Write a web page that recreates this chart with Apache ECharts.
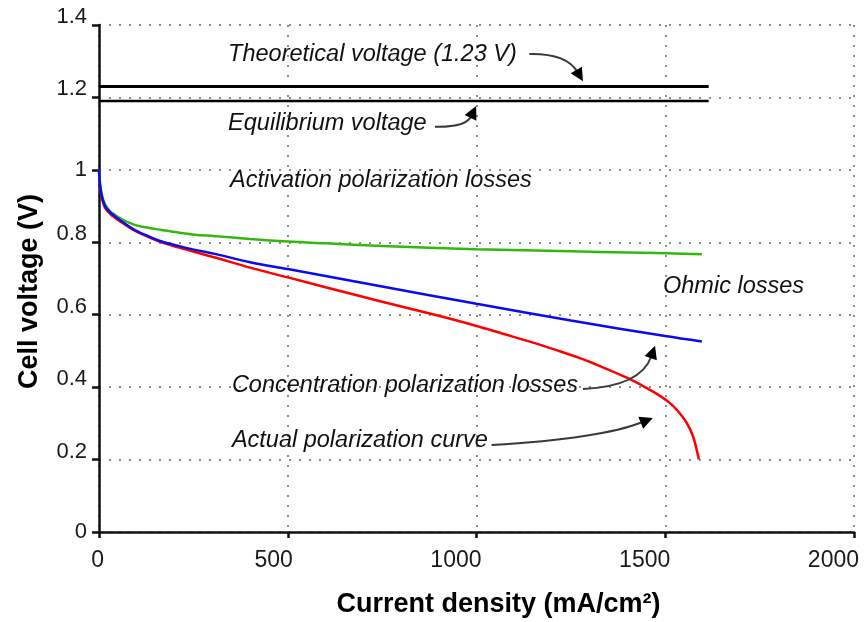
<!DOCTYPE html>
<html>
<head>
<meta charset="utf-8">
<title>Fuel cell polarization curve</title>
<script src="https://cdn.jsdelivr.net/npm/echarts@6/dist/echarts.min.js"></script>
<style>
  html, body { margin: 0; padding: 0; background: #ffffff; }
  #chart { width: 864px; height: 622px; }
</style>
</head>
<body>
<div id="chart"></div>
<script>
// ---- Data -------------------------------------------------------------
// Current density (mA/cm²) and cell voltage (V) for each loss curve.
const activationX = [0, 3, 8, 16, 30, 42, 60, 95, 130, 166, 210, 254, 307, 400, 500, 600, 750, 1000, 1250, 1400, 1597];
const activationY = [1.0, 0.96, 0.93, 0.905, 0.885, 0.876, 0.864, 0.848, 0.84, 0.834, 0.827, 0.821, 0.817, 0.809, 0.802, 0.797, 0.79, 0.781, 0.775, 0.772, 0.767];

const ohmicX = [0, 3, 8, 16, 30, 42, 60, 95, 130, 166, 210, 254, 307, 400, 500, 750, 1000, 1250, 1500, 1597];
const ohmicY = [1.0, 0.955, 0.925, 0.9, 0.882, 0.872, 0.858, 0.834, 0.817, 0.802, 0.79, 0.779, 0.768, 0.745, 0.726, 0.678, 0.63, 0.584, 0.541, 0.526];

const actualX = [0, 3, 8, 16, 30, 42, 60, 95, 130, 166, 210, 254, 307, 400, 500, 600, 750, 900, 1000, 1062, 1150, 1221, 1274, 1309, 1398, 1450, 1486, 1510, 1531, 1557, 1574, 1589];
const actualY = [1.0, 0.95, 0.92, 0.895, 0.878, 0.868, 0.855, 0.832, 0.815, 0.8, 0.786, 0.773, 0.758, 0.73, 0.703, 0.676, 0.636, 0.597, 0.569, 0.55, 0.523, 0.499, 0.48, 0.466, 0.426, 0.398, 0.376, 0.358, 0.337, 0.301, 0.263, 0.2];

// Reference voltages (V) and the current density where their lines stop.
const theoreticalVoltage = 1.23;
const equilibriumVoltage = 1.19;
const referenceLineEnd = 1615;

// Axis ticks.
const xTickValues = [0, 500, 1000, 1500, 2000];
const xTickLabels = ['0', '500', '1000', '1500', '2000'];
const yTickValues = [0, 0.2, 0.4, 0.6, 0.8, 1, 1.2, 1.4];
const yTickLabels = ['0', '0.2', '0.4', '0.6', '0.8', '1', '1.2', '1.4'];

// Annotation texts.
const noteTexts = [
  'Theoretical voltage (1.23 V)',
  'Equilibrium voltage',
  'Activation polarization losses',
  'Ohmic losses',
  'Concentration polarization losses',
  'Actual polarization curve'
];

// ---- Helpers ----------------------------------------------------------
const zip = (xs, ys) => xs.map((x, i) => [x, ys[i]]);
const FONT = '"Liberation Sans", Arial, Helvetica, sans-serif';

function tickLabel(values, labels, v) {
  const i = values.findIndex(t => Math.abs(t - v) < 1e-9);
  return i >= 0 ? labels[i] : '';
}

// ---- Chart ------------------------------------------------------------
const chart = echarts.init(document.getElementById('chart'), null, { renderer: 'canvas' });

const dotted = { color: '#8c8c8c', width: 2, type: [2, 8] };
const axisBlack = { color: '#111', width: 2.5 };
const curveLine = { type: 'line', showSymbol: false, smooth: 0.35 };
const tickFont = { fontFamily: FONT, color: '#1a1a1a' };

chart.setOption({
  animation: false,
  backgroundColor: '#ffffff',
  grid: { left: 99, right: 10, top: 25, bottom: 90, outerBoundsMode: 'none' },
  xAxis: {
    type: 'value',
    min: xTickValues[0],
    max: xTickValues[xTickValues.length - 1],
    interval: 500,
    name: 'Current density (mA/cm²)',
    nameLocation: 'middle',
    nameGap: 59,
    nameTextStyle: { fontFamily: FONT, fontSize: 27, fontWeight: 'bold', color: '#000', padding: [0, 0, 0, 44] },
    axisLine: { show: true, lineStyle: axisBlack },
    axisTick: { show: true, length: 6, lineStyle: axisBlack },
    axisLabel: {
      margin: 17,
      align: 'right',
      padding: [0, -5, 0, 0],
      fontFamily: FONT, fontSize: 23, color: '#1a1a1a',
      formatter: v => tickLabel(xTickValues, xTickLabels, v)
    },
    splitLine: { show: true, lineStyle: dotted }
  },
  yAxis: {
    type: 'value',
    min: yTickValues[0],
    max: yTickValues[yTickValues.length - 1],
    interval: 0.2,
    name: 'Cell voltage (V)',
    nameLocation: 'middle',
    nameGap: 56,
    nameTextStyle: { fontFamily: FONT, fontSize: 27, fontWeight: 'bold', color: '#000', padding: [0, 26, 0, 0] },
    axisLine: { show: true, lineStyle: axisBlack },
    axisTick: { show: true, length: 7, lineStyle: axisBlack },
    axisLabel: {
      margin: 12,
      fontFamily: FONT, fontSize: 22, color: '#1a1a1a',
      formatter: v => {
        const s = tickLabel(yTickValues, yTickLabels, v);
        return s.indexOf('.') >= 0 ? '{d|' + s + '}' : '{i|' + s + '}';
      },
      rich: {
        d: Object.assign({ fontSize: 22, padding: [0, 0, 16, 0] }, tickFont),
        i: Object.assign({ fontSize: 22 }, tickFont)
      }
    },
    splitLine: { show: true, lineStyle: dotted }
  },
  series: [
    {
      name: 'Theoretical voltage',
      type: 'line', showSymbol: false, silent: true,
      lineStyle: { color: '#000', width: 3 },
      data: [[0, theoreticalVoltage], [referenceLineEnd, theoreticalVoltage]]
    },
    {
      name: 'Equilibrium voltage',
      type: 'line', showSymbol: false, silent: true,
      lineStyle: { color: '#000', width: 2.5 },
      data: [[0, equilibriumVoltage], [referenceLineEnd, equilibriumVoltage]]
    },
    Object.assign({}, curveLine, {
      name: 'Actual polarization curve',
      lineStyle: { color: '#ff0000', width: 2.5 },
      data: zip(actualX, actualY)
    }),
    Object.assign({}, curveLine, {
      name: 'Activation losses',
      lineStyle: { color: '#33b80f', width: 2.5 },
      data: zip(activationX, activationY)
    }),
    Object.assign({}, curveLine, {
      name: 'Ohmic losses',
      lineStyle: { color: '#0a0aee', width: 2.5 },
      data: zip(ohmicX, ohmicY)
    })
  ]
});

// ---- Annotations (placed in data coordinates) ---------------------------
const notes = [
  { text: noteTexts[0], at: [342, 1.318] },
  { text: noteTexts[1], at: [342, 1.127] },
  { text: noteTexts[2], at: [347, 0.972] },
  { text: noteTexts[3], at: [1494, 0.677] },
  { text: noteTexts[4], at: [352, 0.406] },
  { text: noteTexts[5], at: [352, 0.254] }
];

// Curved pointers: start, control point, tip.
const pointers = [
  { from: [1140, 1.320], ctrl: [1238, 1.322], to: [1282, 1.245] },
  { from: [890, 1.119], ctrl: [972, 1.117], to: [999, 1.176] },
  { from: [1282, 0.395], ctrl: [1435, 0.402], to: [1473, 0.514] },
  { from: [1040, 0.240], ctrl: [1330, 0.258], to: [1467, 0.315] }
];

const px = p => chart.convertToPixel({ gridIndex: 0 }, p);
const graphics = [];

notes.forEach(n => {
  const p = px(n.at);
  graphics.push({
    type: 'text', silent: true, z: 50,
    x: p[0], y: p[1],
    style: {
      text: n.text,
      fill: '#111',
      font: 'italic 23.5px ' + FONT,
      align: 'left',
      verticalAlign: 'middle'
    }
  });
});

pointers.forEach(a => {
  const p0 = px(a.from), pc = px(a.ctrl), p1 = px(a.to);
  const dx = p1[0] - pc[0], dy = p1[1] - pc[1];
  const L = Math.hypot(dx, dy) || 1;
  const ux = dx / L, uy = dy / L;
  const headLen = 13, headHalf = 6.5;
  const bx = p1[0] - ux * headLen, by = p1[1] - uy * headLen;
  graphics.push({
    type: 'bezierCurve', silent: true, z: 40,
    shape: { x1: p0[0], y1: p0[1], x2: bx + ux * 2, y2: by + uy * 2, cpx1: pc[0], cpy1: pc[1] },
    style: { stroke: '#3a3a3a', lineWidth: 2, fill: null }
  });
  graphics.push({
    type: 'polygon', silent: true, z: 41,
    shape: { points: [[p1[0], p1[1]], [bx - uy * headHalf, by + ux * headHalf], [bx + uy * headHalf, by - ux * headHalf]] },
    style: { fill: '#000' }
  });
});

chart.setOption({ graphic: graphics });
</script>
</body>
</html>
